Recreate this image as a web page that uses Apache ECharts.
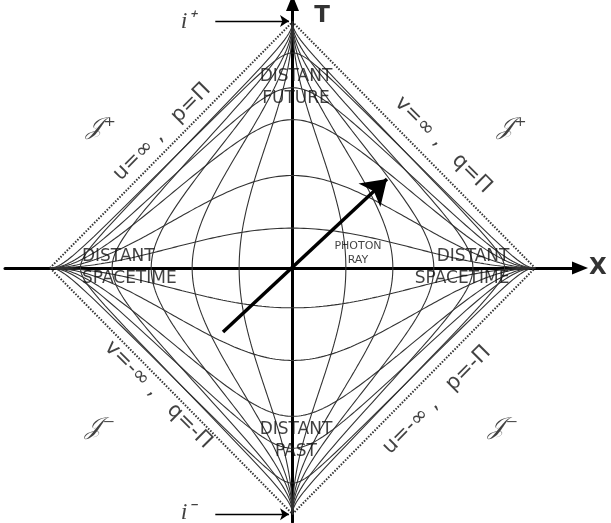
<!DOCTYPE html>
<html>
<head>
<meta charset="utf-8">
<script src="https://cdn.jsdelivr.net/npm/echarts@6/dist/echarts.min.js"></script>
<style>html,body{margin:0;padding:0;background:#fff;}#c{width:611px;height:523px;}</style>
</head>
<body>
<div id="c"></div>
<script>
// Levels of the conformal grid (Minkowski t and x values)
const tLevels = [0.26, 0.67, 1.39, 2.24, 5];
const xLevels = [0.36, 0.76, 1.30, 2.35, 5];
// Boundary diamond (scri), in compactified coordinates
const boundary = [[-Math.PI, 0], [0, Math.PI], [Math.PI, 0], [0, -Math.PI], [-Math.PI, 0]];
// Photon ray (start, end) in compactified coordinates
const photonRay = [[-0.90, -0.817], [1.224, 1.137]];
// i+ / i- pointer arrows
const iPlusArrow = [[-1.0, 3.155], [-0.045, 3.155]];
const iMinusArrow = [[-1.0, -3.145], [-0.045, -3.145]];
// Text labels: [X, T, text, rotate, size, align]
const labels = [
  [0.045, 2.30, 'DISTANT\nFUTURE', 0, 17, 'center'],
  [-2.727, 0.0, 'DISTANT\nSPACETIME', 0, 17, 'left'],
  [2.81, 0.0, 'DISTANT\nSPACETIME', 0, 17, 'right'],
  [0.045, -2.21, 'DISTANT\nPAST', 0, 17, 'center'],
  [0.848, 0.19, 'PHOTON\nRAY', 0, 11, 'center'],
  [-1.69, 1.737, 'u=∞ ,   p=Π', 45, 21, 'center'],
  [1.95, 1.57, 'v=∞ ,   q=Π', -45, 21, 'center'],
  [-1.742, -1.62, 'v=-∞ ,   q=-Π', -45, 21, 'center'],
  [1.87, -1.686, 'u=-∞ ,   p=-Π', 45, 21, 'center']
];
const scriLabels = [
  [-2.48, 1.79, '𝒥⁺'], [2.84, 1.79, '𝒥⁺'],
  [-2.49, -2.04, '𝒥⁻'], [2.73, -2.04, '𝒥⁻']
];
const iLabels = [[-1.354, 3.14, 'i⁺'], [-1.354, -3.13, 'i⁻']];
const axisNames = [[0.382, 3.22, 'T'], [3.957, 0, 'X']];

function penrose(t, x) {
  const a = Math.atan(t + x), b = Math.atan(t - x);
  return [a - b, a + b];
}
const N = 240;
function constT(t0) {
  const pts = [];
  for (let i = 0; i <= N; i++) {
    const s = -Math.PI / 2 + Math.PI * i / N;
    const x = Math.tan(Math.max(-1.5707, Math.min(1.5707, s)));
    pts.push(penrose(t0, x));
  }
  return pts;
}
function constX(x0) {
  const pts = [];
  for (let i = 0; i <= N; i++) {
    const s = -Math.PI / 2 + Math.PI * i / N;
    const t = Math.tan(Math.max(-1.5707, Math.min(1.5707, s)));
    pts.push(penrose(t, x0));
  }
  return pts;
}
const gridStyle = { color: '#333', width: 1.1 };
const series = [];
tLevels.forEach(t0 => {
  [t0, -t0].forEach(v => series.push({ type: 'line', data: constT(v), showSymbol: false, silent: true, lineStyle: gridStyle, z: 2 }));
});
xLevels.forEach(x0 => {
  [x0, -x0].forEach(v => series.push({ type: 'line', data: constX(v), showSymbol: false, silent: true, lineStyle: gridStyle, z: 2 }));
});
series.push({ type: 'line', data: boundary, showSymbol: false, silent: true,
  lineStyle: { color: '#333', width: 2, type: [1.5, 1.5] }, z: 2 });
series.push({ type: 'lines', coordinateSystem: 'cartesian2d', silent: true, z: 5,
  symbol: ['none', 'arrow'], symbolSize: 24,
  lineStyle: { color: '#000', width: 3.5, opacity: 1 },
  data: [{ coords: photonRay }] });
series.push({ type: 'lines', coordinateSystem: 'cartesian2d', silent: true, z: 5,
  symbol: ['none', 'arrow'], symbolSize: 9,
  lineStyle: { color: '#000', width: 1.3, opacity: 1 },
  data: [{ coords: iPlusArrow }, { coords: iMinusArrow }] });
const textFont = 'DejaVu Sans';
series.push({ type: 'scatter', symbolSize: 0, silent: true, clip: false, z: 6,
  data: labels.map(l => ({ value: [l[0], l[1]], label: {
    show: true, position: 'inside', formatter: l[2], rotate: l[3], fontSize: l[4],
    align: l[5], verticalAlign: 'middle', color: '#111', fontFamily: textFont,
    lineHeight: Math.round(l[4] * 1.3)
  } })) });
series.push({ type: 'scatter', symbolSize: 0, silent: true, clip: false, z: 6,
  data: scriLabels.map(l => ({ value: [l[0], l[1]], label: {
    show: true, position: 'inside', formatter: l[2], fontSize: 24, color: '#111',
    fontFamily: 'DejaVu Serif', fontStyle: 'italic'
  } })) });
series.push({ type: 'scatter', symbolSize: 0, silent: true, clip: false, z: 6,
  data: iLabels.map(l => ({ value: [l[0], l[1]], label: {
    show: true, position: 'inside', formatter: l[2], fontSize: 24, color: '#111',
    fontFamily: 'Liberation Serif', fontStyle: 'italic'
  } })) });
series.push({ type: 'scatter', symbolSize: 0, silent: true, clip: false, z: 6,
  data: axisNames.map(l => ({ value: [l[0], l[1]], label: {
    show: true, position: 'inside', formatter: l[2], fontSize: 23, fontWeight: 'bold',
    color: '#000', fontFamily: 'DejaVu Sans'
  } })) });

const axisCommon = {
  type: 'value',
  axisTick: { show: false }, axisLabel: { show: false }, splitLine: { show: false },
  axisLine: { show: true, onZero: true, symbol: ['none', 'triangle'], symbolSize: [13, 16],
    lineStyle: { color: '#000', width: 3 } }
};
const chart = echarts.init(document.getElementById('c'), null, { renderer: 'canvas' });
chart.setOption({
  animation: false,
  backgroundColor: '#fff',
  grid: { left: 5, width: 575, top: 3, height: 519, containLabel: false },
  xAxis: Object.assign({}, axisCommon, { min: -3.724, max: 3.724 }),
  yAxis: Object.assign({}, axisCommon, { min: -3.244, max: 3.384 }),
  series: series
});
</script>
</body>
</html>
